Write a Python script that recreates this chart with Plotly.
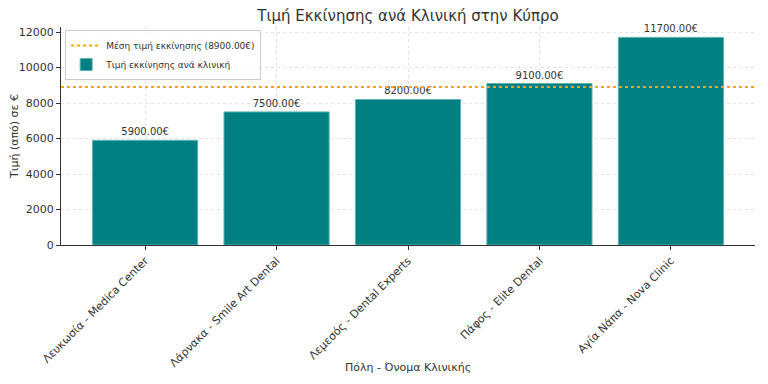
import plotly.graph_objects as go

categories = ["Λευκωσία - Medica Center", "Λάρνακα - Smile Art Dental", "Λεμεσός - Dental Experts",
              "Πάφος - Elite Dental", "Αγία Νάπα - Nova Clinic"]
prices = [5900, 7500, 8200, 9100, 11700]
avg_price = 8900
bar_labels = [f"{v:.2f}€" for v in prices]
x_title = "Πόλη - Όνομα Κλινικής"

font_family = "DejaVu Sans"
fig = go.Figure()

fig.add_trace(go.Scatter(
    x=[0, 1], y=[avg_price, avg_price], xaxis="x2", mode="lines",
    line=dict(color="#FFA500", width=2, dash="dot"),
    name=f"Μέση τιμή εκκίνησης ({avg_price:.2f}€)", hoverinfo="skip"))

fig.add_trace(go.Bar(
    x=list(range(len(categories))), y=prices, width=0.8,
    marker=dict(color="#008080", line=dict(color="#5fb3b3", width=1)),
    text=bar_labels, textposition="outside", cliponaxis=False,
    textfont=dict(size=10, color="#333333", family=font_family),
    name="Τιμή εκκίνησης ανά κλινική"))

fig.add_annotation(text=x_title, x=0.5, y=0, xref="paper", yref="paper",
                   xanchor="center", yanchor="middle", yshift=-122, showarrow=False,
                   font=dict(size=11, color="#333333"))

fig.update_layout(
    width=760, height=376,
    margin=dict(l=53, r=13, t=19, b=139),
    paper_bgcolor="white", plot_bgcolor="white",
    font=dict(family=font_family, size=11, color="#333333"),
    title=dict(text="Τιμή Εκκίνησης ανά Κλινική στην Κύπρο", x=0.5, xref="paper",
               xanchor="center", y=0.979, yanchor="middle",
               font=dict(size=15, color="#333333")),
    showlegend=True,
    legend=dict(x=0.006, y=0.986, xanchor="left", yanchor="top",
                bordercolor="#cccccc", borderwidth=1, bgcolor="rgba(255,255,255,0.8)",
                font=dict(size=9, color="#333333"), tracegroupgap=0,
                itemwidth=30),
    bargap=0.2,
    xaxis=dict(
        tickmode="array", tickvals=list(range(len(categories))), ticktext=categories,
        range=[-0.64, 4.64], tickangle=-45, showline=True, linecolor="#333333",
        linewidth=1, ticks="outside", ticklen=4, tickcolor="#333333",
        showgrid=True, gridcolor="#e3e3e3", griddash="dot", gridwidth=1,
        automargin=False, tickfont=dict(size=11), zeroline=False),
    xaxis2=dict(overlaying="x", range=[0, 1], visible=False, showgrid=False),
    yaxis=dict(
        range=[0, 12285], tickvals=[0, 2000, 4000, 6000, 8000, 10000, 12000],
        tickformat="d", automargin=False,
        showline=True, linecolor="#333333", linewidth=1, ticks="outside", ticklen=4,
        tickcolor="#333333", showgrid=True, gridcolor="#e3e3e3", griddash="dot",
        gridwidth=1, zeroline=False, tickfont=dict(size=11),
        title=dict(text="Τιμή (από) σε €", font=dict(size=11), standoff=10)),
)

fig.write_html("out.html")
